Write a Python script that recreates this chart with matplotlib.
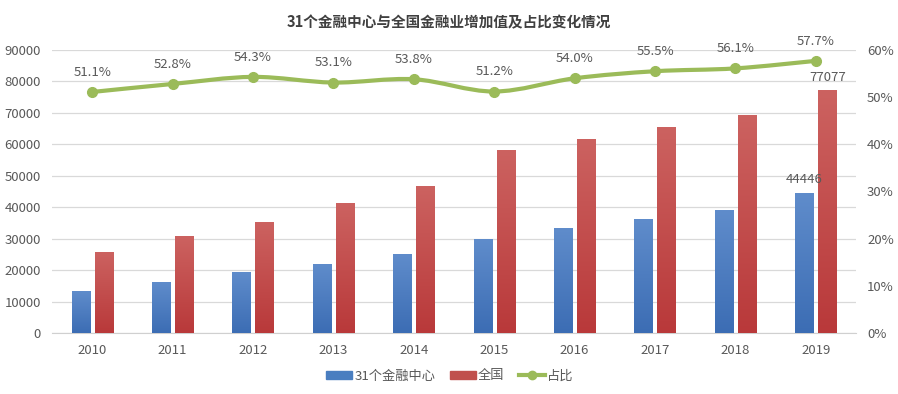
import matplotlib
matplotlib.use("Agg")
import matplotlib.pyplot as plt
import numpy as np
from matplotlib.path import Path
from matplotlib.patches import PathPatch, Patch
from matplotlib.lines import Line2D
from matplotlib.colors import LinearSegmentedColormap

plt.rcParams['font.family'] = ['Noto Sans CJK SC', 'DejaVu Sans']

years = ['2010', '2011', '2012', '2013', '2014', '2015', '2016', '2017', '2018', '2019']
centers = [13300, 16200, 19100, 21900, 25100, 29600, 33100, 36200, 38800, 44446]
national = [25700, 30800, 35300, 41300, 46600, 57900, 61400, 65500, 69300, 77077]
share = [51.1, 52.8, 54.3, 53.1, 53.8, 51.2, 54.0, 55.5, 56.1, 57.7]
share_labels = ['51.1%', '52.8%', '54.3%', '53.1%', '53.8%', '51.2%', '54.0%', '55.5%', '56.1%', '57.7%']
left_ticks = [0, 10000, 20000, 30000, 40000, 50000, 60000, 70000, 80000, 90000]
right_ticks = [0, 10, 20, 30, 40, 50, 60]

title = '31个金融中心与全国金融业增加值及占比变化情况'
names = ['31个金融中心', '全国', '占比']

blue_top, blue_bot = '#5f8ccb', '#3c6db4'
red_top, red_bot = '#cc6260', '#b9393a'
green = '#9bbb59'
txt = '#595959'

fig = plt.figure(figsize=(8.98, 3.94), dpi=100)
ax = fig.add_axes([52/898, 1-333/394, (856-52)/898, (333-50)/394])
ax2 = ax.twinx()

x = np.arange(len(years))
w = 0.225
off = 0.143

def grad_bars(xs, vals, ctop, cbot):
    bars = ax.bar(xs, vals, width=w, facecolor='none', edgecolor='none', lw=0, zorder=2)
    cmap = LinearSegmentedColormap.from_list('g', [cbot, ctop])
    for b in bars:
        x0, y0 = b.get_x(), b.get_y()
        bw, bh = b.get_width(), b.get_height()
        grad = np.repeat(np.linspace(0, 1, 100).reshape(-1, 1), 4, axis=1)
        ax.imshow(grad, cmap=cmap, aspect='auto', origin='lower', interpolation='bilinear',
                  extent=[x0, x0 + bw, y0, y0 + bh], zorder=3)
    return bars

grad_bars(x - off, centers, blue_top, blue_bot)
grad_bars(x + off, national, red_top, red_bot)

ax.set_xlim(-0.5, len(years) - 0.5)
ax.set_ylim(0, 90000)
ax.set_yticks(left_ticks)
ax.set_yticklabels([str(v) for v in left_ticks])
ax.set_xticks(x)
ax.set_xticklabels(years)
ax.grid(axis='y', color='#d9d9d9', lw=0.9, zorder=0)
ax.set_axisbelow(True)
for s in ['top', 'right', 'left']:
    ax.spines[s].set_visible(False)
ax.spines['bottom'].set_color('#d0d0d0')
ax.tick_params(axis='both', length=0, colors=txt, labelsize=9.5)
ax.tick_params(axis='x', pad=8)
ax.tick_params(axis='y', pad=8)

ax.text(x[-1] - off, centers[-1] + 2200, str(centers[-1]), ha='center', va='bottom', color=txt, fontsize=9.5, zorder=6)
ax.text(x[-1] + off, national[-1] + 2000, str(national[-1]), ha='center', va='bottom', color=txt, fontsize=9.5, zorder=6)

ax2.set_ylim(0, 60)
ax2.set_yticks(right_ticks)
ax2.set_yticklabels([f'{v}%' for v in right_ticks])
for s in ['top', 'right', 'left', 'bottom']:
    ax2.spines[s].set_visible(False)
ax2.tick_params(axis='y', length=0, colors=txt, labelsize=9.5, pad=8)

pts = np.column_stack([x, share]).astype(float)
verts = [tuple(pts[0])]
codes = [Path.MOVETO]
t = 0.5 / 3
for i in range(len(pts) - 1):
    p0 = pts[i - 1] if i > 0 else pts[i]
    p1, p2 = pts[i], pts[i + 1]
    p3 = pts[i + 2] if i + 2 < len(pts) else pts[i + 1]
    c1 = p1 + (p2 - p0) * t
    c2 = p2 - (p3 - p1) * t
    verts += [tuple(c1), tuple(c2), tuple(p2)]
    codes += [Path.CURVE4] * 3
ax2.add_patch(PathPatch(Path(verts, codes), fill=False, edgecolor=green, lw=3, zorder=4,
                        capstyle='round', joinstyle='round'))
ax2.plot(x, share, 'o', color=green, ms=7, zorder=5)
for xi, yi, lab in zip(x, share, share_labels):
    ax2.annotate(lab, (xi, yi), xytext=(0, 9.5), textcoords='offset points', ha='center', va='bottom',
                 color=txt, fontsize=9.5)

fig.text(0.5, 1-22/394, title, ha='center', va='center', fontsize=10.5, fontweight='bold', color='#404040')

handles = [Patch(color='#4a7ec0'), Patch(color='#c0504d'),
           Line2D([0], [0], color=green, lw=3, marker='o', ms=6)]
fig.legend(handles, names, loc='center', bbox_to_anchor=(0.501, 1-376/394), ncol=3, frameon=False,
           fontsize=9.5, labelcolor=txt, handlelength=2.0, handleheight=0.55, handletextpad=0.15,
           columnspacing=1.1)

fig.savefig('out.png', dpi=100)
